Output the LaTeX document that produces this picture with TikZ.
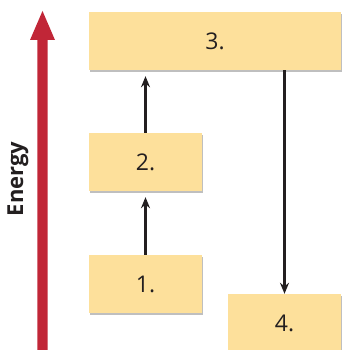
\documentclass[tikz,border=0pt]{standalone}
\usepackage{fontspec}
\setmainfont{Open Sans}
\usetikzlibrary{arrows.meta,shadows}
\definecolor{boxfill}{RGB}{253,224,155}
\definecolor{energyred}{RGB}{193,38,55}
\definecolor{ink}{RGB}{35,31,32}
\tikzset{
  levelbox/.style={rectangle, fill=boxfill, inner sep=0pt, minimum height=58pt,
    font=\fontsize{23}{25}\selectfont, text=ink,
    drop shadow={shadow xshift=1.2pt, shadow yshift=-1.8pt, fill=black, opacity=0.25}},
  transition/.style={draw=ink, line width=2.4pt, -{Stealth[length=11pt,width=9pt]}},
}
\begin{document}
\begin{tikzpicture}[x=1pt,y=1pt]
\useasboundingbox (0,0) rectangle (341,350);
% energy axis
\fill[energyred] (37.3,-2) -- (47.7,-2) -- (47.7,310) -- (55,310) -- (42.5,339) -- (30,310) -- (37.3,310) -- cycle;
\node[rotate=90, font=\fontsize{22}{24}\selectfont\bfseries, text=ink] (energy) at (18,171) {Energy};
% levels
\node[levelbox, minimum width=252pt] (n3) at (215,309) {3.};
\node[levelbox, minimum width=113pt] (n2) at (145.5,188) {2.};
\node[levelbox, minimum width=113pt] (n1) at (145.5,66) {1.};
\node[levelbox, minimum width=113pt] (n4) at (284.5,27) {4.};
% transitions
\draw[transition, shorten >=6pt] (n1.north) -- (n2.south);
\draw[transition, shorten >=6pt] (n2.north) -- (n2.north |- n3.south);
\draw[transition] (n4.north |- n3.south) -- (n4.north);
\end{tikzpicture}
\end{document}
